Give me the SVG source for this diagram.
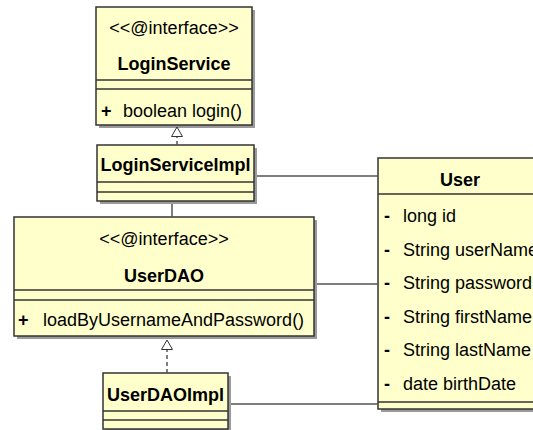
<svg xmlns="http://www.w3.org/2000/svg" width="533" height="430" viewBox="0 0 533 430">
  <style>
    .shadow { fill: #9a9a9a; }
    .box { fill: #FFFFCC; stroke: #333333; stroke-width: 1.5; }
    .div { stroke: #333333; stroke-width: 1.5; fill: none; }
    .t { font-family: "Liberation Sans", Arial, sans-serif; font-size: 18px; fill: #000000; }
    .b { font-weight: bold; }
    .c { text-anchor: middle; }
    .conn { stroke: #555555; stroke-width: 1.5; fill: none; }
    .dash { stroke-dasharray: 4 3; }
  </style>
  <defs>
    <marker id="tri" viewBox="-1 -7 12 14" markerWidth="12" markerHeight="14" markerUnits="userSpaceOnUse" refX="9.5" refY="0" orient="auto">
      <path d="M0,-5.5 L9.5,0 L0,5.5 Z" fill="#ffffff" stroke="#333333" stroke-width="1" stroke-dasharray="none"/>
    </marker>
  </defs>

  <g id="LoginService">
    <rect class="shadow" x="99" y="10" width="156" height="118"/>
    <rect class="box" x="96" y="7" width="156" height="118"/>
    <line class="div" x1="96" y1="80" x2="252" y2="80"/>
    <line class="div" x1="96" y1="89" x2="252" y2="89"/>
    <text class="t c" x="174" y="34">&lt;&lt;@interface&gt;&gt;</text>
    <text class="t b c" x="174" y="70">LoginService</text>
    <text class="t b" x="101" y="117">+</text>
    <text class="t" x="123" y="117">boolean login()</text>
  </g>

  <g id="LoginServiceImpl">
    <rect class="shadow" x="100" y="148" width="157" height="56"/>
    <rect class="box" x="97" y="145" width="157" height="56"/>
    <line class="div" x1="97" y1="182" x2="254" y2="182"/>
    <line class="div" x1="97" y1="192" x2="254" y2="192"/>
    <text class="t b c" x="175.5" y="171">LoginServiceImpl</text>
  </g>

  <g id="UserDAO">
    <rect class="shadow" x="17" y="220" width="300" height="119"/>
    <rect class="box" x="14" y="217" width="300" height="119"/>
    <line class="div" x1="14" y1="290" x2="314" y2="290"/>
    <line class="div" x1="14" y1="300" x2="314" y2="300"/>
    <text class="t c" x="164" y="245">&lt;&lt;@interface&gt;&gt;</text>
    <text class="t b c" x="164" y="282">UserDAO</text>
    <text class="t b" x="18" y="326">+</text>
    <text class="t" x="43" y="326">loadByUsernameAndPassword()</text>
  </g>

  <g id="UserDAOImpl">
    <rect class="shadow" x="106" y="376" width="125" height="56"/>
    <rect class="box" x="103" y="373" width="125" height="56"/>
    <line class="div" x1="103" y1="411" x2="228" y2="411"/>
    <line class="div" x1="103" y1="420" x2="228" y2="420"/>
    <text class="t b c" x="165.5" y="401">UserDAOImpl</text>
  </g>

  <g id="User">
    <rect class="shadow" x="381" y="161" width="164" height="251"/>
    <rect class="box" x="378" y="158" width="164" height="251"/>
    <line class="div" x1="378" y1="194" x2="542" y2="194"/>
    <line class="div" x1="378" y1="402" x2="542" y2="402"/>
    <text class="t b c" x="460" y="186">User</text>
    <text class="t b" x="384" y="222">-</text>
    <text class="t" x="403" y="222">long id</text>
    <text class="t b" x="384" y="256">-</text>
    <text class="t" x="403" y="256">String userName</text>
    <text class="t b" x="384" y="289">-</text>
    <text class="t" x="403" y="289">String password</text>
    <text class="t b" x="384" y="323">-</text>
    <text class="t" x="403" y="323">String firstName</text>
    <text class="t b" x="384" y="356">-</text>
    <text class="t" x="403" y="356">String lastName</text>
    <text class="t b" x="384" y="390">-</text>
    <text class="t" x="403" y="390">date birthDate</text>
  </g>

  <g id="connectors">
    <path class="conn dash" d="M177,145 V127" marker-end="url(#tri)"/>
    <path class="conn dash" d="M167,373 V340" marker-end="url(#tri)"/>
    <path class="conn" d="M172,204 V217"/>
    <path class="conn" d="M257,176 H378"/>
    <path class="conn" d="M317,284 H378"/>
    <path class="conn" d="M231,404 H378"/>
  </g>
</svg>
